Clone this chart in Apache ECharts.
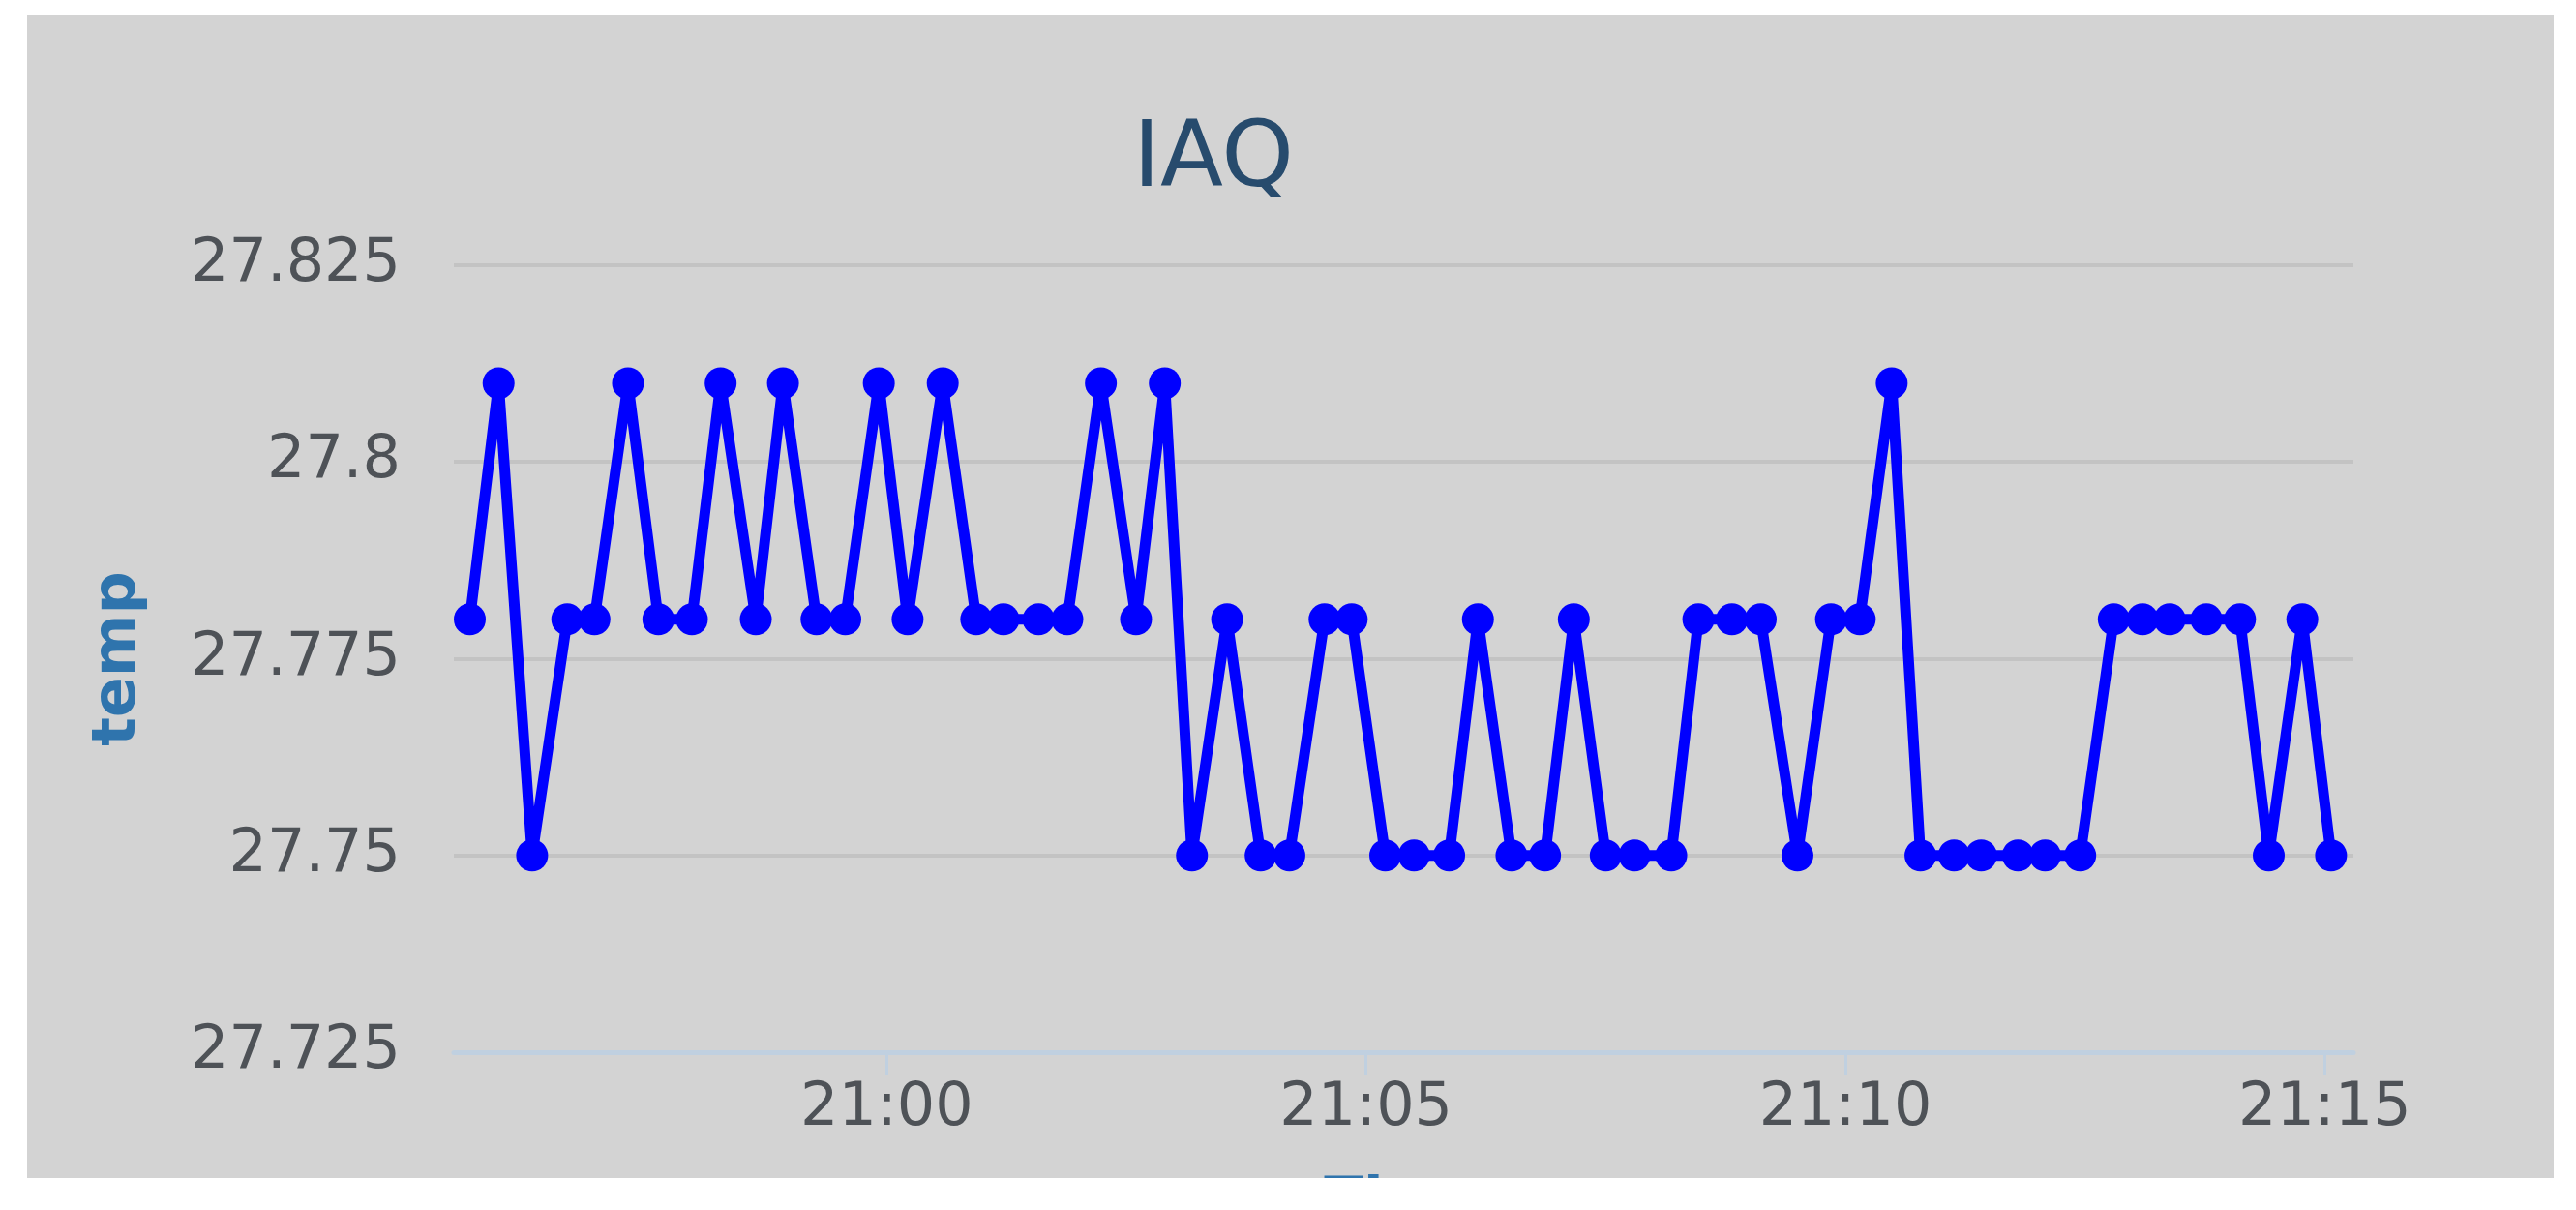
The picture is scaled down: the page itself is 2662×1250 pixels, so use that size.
<!DOCTYPE html>
<html>
<head>
<meta charset="utf-8">
<script src="https://cdn.jsdelivr.net/npm/echarts@6/dist/echarts.min.js"></script>
<style>
  html, body { margin: 0; padding: 0; background: #ffffff; width: 2662px; height: 1250px; overflow: hidden; }
  #chart { position: absolute; left: 28px; top: 16px; width: 2611px; height: 1201px; }
</style>
</head>
<body>
<div id="chart"></div>
<script>
// ---- data ----
const chartTitle = 'IAQ';
const yAxisName = 'temp';
const xAxisName = 'Time';
const dayDate = '2015-01-01';
const times = ['20:55:39','20:55:57','20:56:18','20:56:40','20:56:57','20:57:18','20:57:37','20:57:58','20:58:16','20:58:38',
  '20:58:55','20:59:16','20:59:34','20:59:55','21:00:13','21:00:35','21:00:56','21:01:13','21:01:35','21:01:53',
  '21:02:14','21:02:36','21:02:54','21:03:11','21:03:33','21:03:54','21:04:12','21:04:34','21:04:51','21:05:12',
  '21:05:30','21:05:52','21:06:10','21:06:31','21:06:52','21:07:10','21:07:30','21:07:48','21:08:11','21:08:28',
  '21:08:49','21:09:07','21:09:30','21:09:51','21:10:09','21:10:29','21:10:47','21:11:08','21:11:25','21:11:48',
  '21:12:05','21:12:27','21:12:48','21:13:06','21:13:23','21:13:46','21:14:07','21:14:25','21:14:46','21:15:04'];
const temps = [27.78,27.81,27.75,27.78,27.78,27.81,27.78,27.78,27.81,27.78,
  27.81,27.78,27.78,27.81,27.78,27.81,27.78,27.78,27.78,27.78,
  27.81,27.78,27.81,27.75,27.78,27.75,27.75,27.78,27.78,27.75,
  27.75,27.75,27.78,27.75,27.75,27.78,27.75,27.75,27.75,27.78,
  27.78,27.78,27.75,27.78,27.78,27.81,27.75,27.75,27.75,27.75,
  27.75,27.75,27.78,27.78,27.78,27.78,27.78,27.75,27.78,27.75];
const xTickLabels = ['21:00','21:05','21:10','21:15'];
const xRange = ['20:55:29','21:15:18'];
const yMin = 27.725, yMax = 27.825, yStep = 0.025;

// ---- build ----
const ts = s => new Date(dayDate + 'T' + (s.length === 5 ? s + ':00' : s)).getTime();
const seriesData = times.map((t, i) => [ts(t), temps[i]]);
const xTicks = xTickLabels.map(ts);
const pad = n => (n < 10 ? '0' : '') + n;

const labelColor = '#4e5257';
const nameColor = '#2f74ad';
const font = 'DejaVu Sans';

const chart = echarts.init(document.getElementById('chart'), null, { renderer: 'canvas' });
chart.setOption({
  animation: false,
  backgroundColor: '#d3d3d3',
  title: {
    text: chartTitle,
    left: 1138,
    top: 99,
    textStyle: { fontFamily: font, fontSize: 95, fontWeight: 'normal', color: '#274b6d' }
  },
  grid: { left: 441, right: 207, top: 258, bottom: 130, outerBoundsMode: 'none', containLabel: false },
  xAxis: {
    type: 'value',
    min: ts(xRange[0]),
    max: ts(xRange[1]),
    name: xAxisName,
    nameLocation: 'middle',
    nameGap: 126,
    nameTextStyle: { fontFamily: font, fontSize: 60, fontWeight: 'bold', color: nameColor },
    axisLine: { show: true, onZero: false, lineStyle: { color: '#c0d0e0', width: 5 } },
    axisTick: { show: true, customValues: xTicks, length: 24, lineStyle: { color: '#c0d0e0', width: 3 } },
    axisLabel: {
      customValues: xTicks,
      margin: 28,
      fontFamily: font, fontSize: 62, color: labelColor,
      formatter: v => { const d = new Date(v); return pad(d.getHours()) + ':' + pad(d.getMinutes()); }
    },
    splitLine: { show: false }
  },
  yAxis: {
    type: 'value',
    min: yMin, max: yMax, interval: yStep,
    name: yAxisName,
    nameLocation: 'middle',
    nameGap: 315,
    nameTextStyle: { fontFamily: font, fontSize: 62, fontWeight: 'bold', color: nameColor },
    axisLine: { show: false },
    axisTick: { show: false },
    axisLabel: {
      margin: 55,
      fontFamily: font, fontSize: 62, color: labelColor,
      formatter: v => String(+v.toFixed(3))
    },
    splitLine: { show: true, lineStyle: { color: '#c3c3c3', width: 4 } }
  },
  series: [{
    type: 'line',
    data: seriesData,
    symbol: 'circle',
    symbolSize: 33,
    showAllSymbol: true,
    lineStyle: { color: '#0000ff', width: 11 },
    itemStyle: { color: '#0000ff' },
    clip: false
  }]
});
</script>
</body>
</html>
